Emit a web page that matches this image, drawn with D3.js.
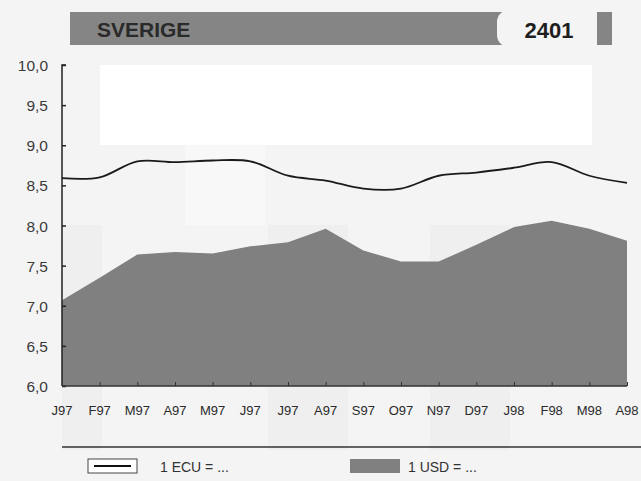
<!DOCTYPE html>
<html>
<head>
<meta charset="utf-8">
<script src="https://cdn.jsdelivr.net/npm/d3@7/dist/d3.min.js"></script>
<style>
  html, body { margin: 0; padding: 0; background: #f4f4f4; }
  svg { display: block; }
  text { font-family: "Liberation Sans", Arial, sans-serif; }
</style>
</head>
<body>
<svg id="chart" width="641" height="481"></svg>
<script>
// Monthly exchange rates, SEK per unit
const months = ["J97","F97","M97","A97","M97","J97","J97","A97","S97","O97","N97","D97","J98","F98","M98","A98"];
const ecuRate = [8.59,8.60,8.80,8.79,8.81,8.80,8.62,8.56,8.46,8.46,8.62,8.66,8.72,8.79,8.62,8.53];
const usdRate = [7.07,7.35,7.64,7.67,7.65,7.74,7.79,7.96,7.69,7.55,7.55,7.76,7.98,8.06,7.96,7.81];
const yTicks = [6.0,6.5,7.0,7.5,8.0,8.5,9.0,9.5,10.0];
const country = "SVERIGE";
const code = "2401";
const legendLabels = ["1 ECU = ...", "1 USD = ..."];

const svg = d3.select("#chart");
const W = 641, H = 481;
const m = { left: 62, right: 14, top: 65, bottom: 95 };

// faint background panels
const bg = svg.append("g");
bg.append("rect").attr("x",0).attr("y",0).attr("width",W).attr("height",H).attr("fill","#f4f4f4");
bg.append("rect").attr("x",62).attr("y",225).attr("width",40).attr("height",225).attr("fill","#efefef");
bg.append("rect").attr("x",268).attr("y",225).attr("width",80).attr("height",225).attr("fill","#efefef");
bg.append("rect").attr("x",430).attr("y",225).attr("width",80).attr("height",225).attr("fill","#efefef");
bg.append("rect").attr("x",185).attr("y",145).attr("width",80).attr("height",80).attr("fill","#f8f8f8");
bg.append("rect").attr("x",100).attr("y",65).attr("width",492).attr("height",80).attr("fill","#ffffff");

const x = d3.scalePoint().domain(d3.range(months.length)).range([m.left, W - m.right]);
const y = d3.scaleLinear().domain([6, 10]).range([386, 65]);

// header band
const hdr = svg.append("g");
hdr.append("rect").attr("x",70).attr("y",12).attr("width",432).attr("height",33).attr("fill","#858585");
hdr.append("rect").attr("x",497).attr("y",10).attr("width",100).attr("height",37).attr("rx",12).attr("fill","#f4f4f4");
hdr.append("rect").attr("x",597).attr("y",12).attr("width",15).attr("height",33).attr("fill","#858585");
hdr.append("text").attr("x",97).attr("y",37).attr("font-size",21).attr("font-weight","bold")
  .attr("fill","#2a2a2a").text(country);
hdr.append("text").attr("x",549).attr("y",38).attr("font-size",22).attr("font-weight","bold")
  .attr("text-anchor","middle").attr("fill","#1e1e1e").text(code);

// USD area
const area = d3.area().x((d,i) => x(i)).y0(y(6)).y1(d => y(d));
svg.append("path").datum(usdRate).attr("d", area).attr("fill","#808080");

// ECU line
const line = d3.line().x((d,i) => x(i)).y(d => y(d)).curve(d3.curveCatmullRom.alpha(0.5));
svg.append("path").datum(ecuRate).attr("d", line).attr("fill","none")
  .attr("stroke","#1a1a1a").attr("stroke-width",1.8);

// Y axis
const yAxis = d3.axisRight(y).tickValues(yTicks).tickSize(4).tickFormat(() => "");
const gy = svg.append("g").attr("transform",`translate(${m.left},0)`).call(yAxis);
gy.select(".domain").attr("stroke","#222").attr("stroke-width",1.5).attr("d", `M4,${y(10)}H0V${y(6)}`);
gy.selectAll(".tick line").attr("stroke","#222").attr("stroke-width",1.5);
svg.append("g").selectAll("text").data(yTicks).join("text")
  .attr("x", 48).attr("y", d => y(d) + 6).attr("text-anchor","end")
  .attr("font-size",15.5).attr("fill","#3a3a3a")
  .text(d => d.toFixed(1).replace(".", ","));

// X axis
const xAxis = d3.axisTop(x).tickSize(4).tickFormat(() => "");
const gx = svg.append("g").attr("transform",`translate(0,${y(6)})`).call(xAxis);
gx.select(".domain").attr("stroke","#333").attr("stroke-width",1.5).attr("d", `M${m.left},0H${W - m.right}`);
gx.selectAll(".tick line").attr("stroke","#333").attr("stroke-width",1);
svg.append("g").selectAll("text").data(months).join("text")
  .attr("x", (d,i) => x(i)).attr("y", 415).attr("text-anchor","middle")
  .attr("font-size",13).attr("fill","#2a2a2a").text(d => d);

// separator and legend
svg.append("line").attr("x1",62).attr("x2",641).attr("y1",447).attr("y2",447)
  .attr("stroke","#333").attr("stroke-width",1.3);
const lg = svg.append("g");
lg.append("rect").attr("x",88).attr("y",459).attr("width",49).attr("height",14)
  .attr("fill","#fff").attr("stroke","#444").attr("stroke-width",1);
lg.append("line").attr("x1",94).attr("x2",131).attr("y1",466).attr("y2",466)
  .attr("stroke","#111").attr("stroke-width",2);
lg.append("text").attr("x",160).attr("y",472).attr("font-size",14).attr("fill","#333").text(legendLabels[0]);
lg.append("rect").attr("x",350).attr("y",459).attr("width",50).attr("height",14).attr("fill","#808080");
lg.append("text").attr("x",408).attr("y",472).attr("font-size",14).attr("fill","#333").text(legendLabels[1]);
</script>
</body>
</html>
